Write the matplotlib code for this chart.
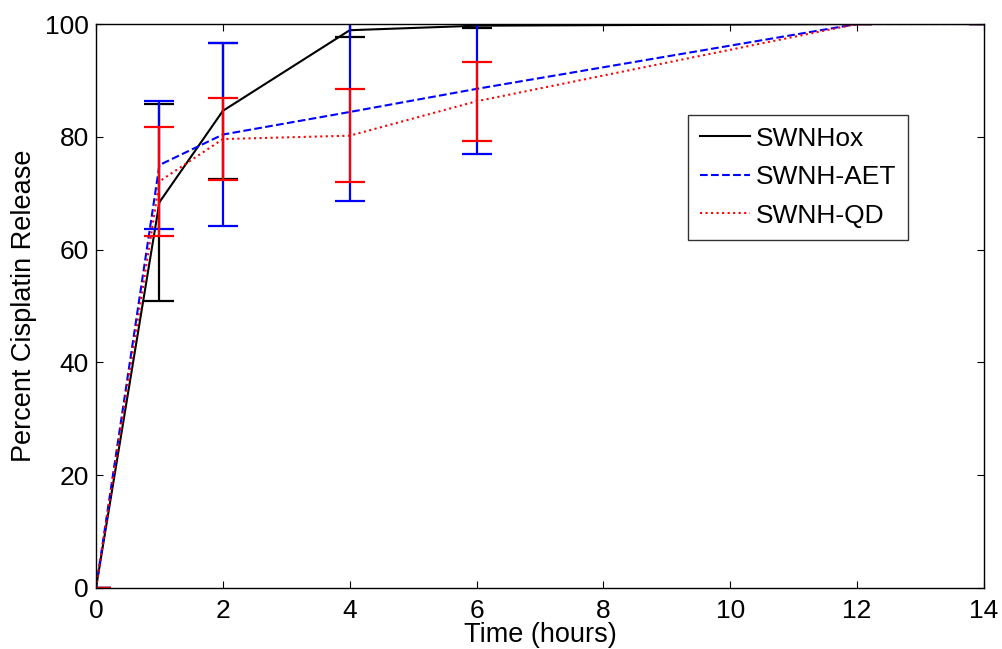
import numpy as np
import matplotlib.pyplot as plt

plt.rcParams['font.family'] = ['Liberation Sans', 'DejaVu Sans']

# ── Data ───────────────────────────────────
time_h = [0, 1, 2, 4, 6, 12, 14]

ox_mean  = [0, 68.4, 84.6, 98.9, 99.7, 100, 100]
ox_err   = [0, 17.5, 12.0, 1.2, 0.4, 0, 0]

aet_mean = [0, 75.0, 80.4, 84.4, 88.5, 100, 100]
aet_err  = [0, 11.4, 16.3, 15.8, 11.6, 0, 0]

qd_mean  = [0, 72.1, 79.6, 80.2, 86.3, 100, 100]
qd_err   = [0, 9.6, 7.2, 8.2, 7.0, 0, 0]

series = [
    ('SWNHox',   ox_mean,  ox_err,  'black',   '-'),
    ('SWNH-AET', aet_mean, aet_err, '#0000ff', '--'),
    ('SWNH-QD',  qd_mean,  qd_err,  '#ff0000', ':'),
]

# ── Plot ───────────────────────────────────
fig = plt.figure(figsize=(10.02, 6.49), dpi=100)
ax = fig.add_axes([0.0958, 0.094, 0.8862, 0.869])

for label, mean, err, color, ls in series:
    ax.plot(time_h, mean, color=color, linestyle=ls, linewidth=1.5, label=label)
    ax.errorbar(time_h, mean, yerr=err, fmt='none', ecolor=color,
                elinewidth=1.6, capsize=10.8, capthick=1.6)

ax.set_xlim(0, 14)
ax.set_ylim(0, 100)
ax.set_xticks(np.arange(0, 15, 2))
ax.set_yticks(np.arange(0, 101, 20))
ax.tick_params(direction='in', top=True, right=True, length=5,
               labelsize=19)
ax.tick_params(axis='x', pad=8)
ax.tick_params(axis='y', pad=5)
for sp in ax.spines.values():
    sp.set_linewidth(1.0)

ax.set_xlabel('Time (hours)', fontsize=19.5, labelpad=-1)
ax.set_ylabel('Percent Cisplatin Release', fontsize=19.5, labelpad=6)

leg = ax.legend(loc='upper left', bbox_to_anchor=(0.667, 0.839),
                fontsize=19, frameon=True, fancybox=False,
                edgecolor='black', handlelength=1.9, labelspacing=0.55,
                borderpad=0.45, handletextpad=0.2, borderaxespad=0)
leg.get_frame().set_linewidth(1.0)

fig.savefig('out.png', dpi=100)
